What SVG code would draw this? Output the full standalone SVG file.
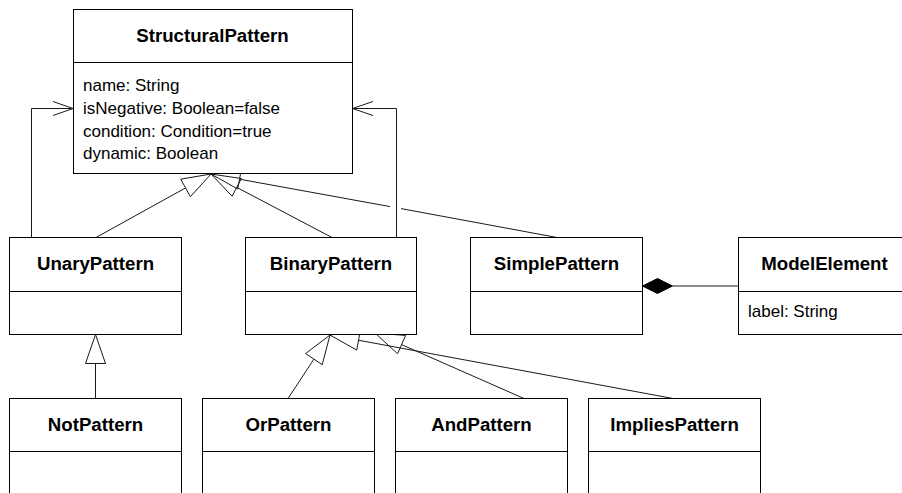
<svg xmlns="http://www.w3.org/2000/svg" width="902" height="493" viewBox="0 0 902 493">
  <style>
    .box { fill: #ffffff; stroke: #000000; stroke-width: 1; }
    .div { stroke: #000000; stroke-width: 1; }
    .title { font-family: "Liberation Sans", Arial, sans-serif; font-weight: bold; font-size: 18.67px; fill: #000000; text-anchor: middle; }
    .attr { font-family: "Liberation Sans", Arial, sans-serif; font-size: 17px; fill: #000000; }
    .edge { fill: none; stroke: #1a1a1a; stroke-width: 1; }
    .gen { fill: none; stroke: #1a1a1a; stroke-width: 1; stroke-linejoin: miter; }
  </style>
  <rect width="902" height="493" fill="#ffffff"/>

  <!-- connectors -->
  <g id="connectors">
    <!-- UnaryPattern to StructuralPattern association -->
    <polyline class="edge" points="31.5,237.5 31.5,108.5 73,108.5"/>
    <polyline class="edge" points="53,101.5 73,108.5 53,115.5"/>
    <!-- BinaryPattern to StructuralPattern association -->
    <polyline class="edge" points="396.5,237.5 396.5,108.5 352.5,108.5"/>
    <polyline class="edge" points="373,101.5 352.5,108.5 373,115.5"/>

    <!-- generalizations to StructuralPattern -->
    <line class="edge" x1="96" y1="237.5" x2="185.56" y2="187.93"/>
    <polygon class="gen" points="211,174 190.37,196.70 180.76,179.16"/>
    <line class="edge" x1="332" y1="237.5" x2="236.73" y2="187.39"/>
    <polygon class="gen" points="211,174 232.11,196.26 241.35,178.52"/>
    <!-- SimplePattern line, broken where it crosses the BinaryPattern association -->
    <line class="edge" x1="557" y1="237.5" x2="401" y2="208.59"/>
    <line class="edge" x1="390" y1="206.59" x2="239.53" y2="179.19"/>
    <polygon class="gen" points="211,174 237.74,189.03 241.32,169.35"/>

    <!-- composition SimplePattern - ModelElement -->
    <polygon points="642.5,286 657.5,278.5 672.5,286 657.5,293.5" fill="#000000" stroke="#000000" stroke-width="1"/>
    <line class="edge" x1="672.5" y1="286" x2="738.5" y2="286"/>

    <!-- NotPattern to UnaryPattern -->
    <line class="edge" x1="95.5" y1="363.5" x2="95.5" y2="398.5"/>
    <polygon class="gen" points="95.5,334.5 85.5,363.5 105.5,363.5"/>

    <!-- generalizations to BinaryPattern -->
    <line class="edge" x1="288" y1="398.5" x2="313.91" y2="359.13"/>
    <polygon class="gen" points="330,335 322.23,364.68 305.59,353.58"/>
    <line class="edge" x1="673" y1="398.5" x2="358.53" y2="340.24"/>
    <polygon class="gen" points="330,335 356.72,350.08 360.34,330.40"/>
    <line class="edge" x1="524" y1="398.5" x2="401.58" y2="344.59"/>
    <polygon class="gen" points="375,333 397.58,353.75 405.58,335.43"/>
  </g>

  <g id="StructuralPattern">
    <rect class="box" x="73.5" y="9.5" width="279" height="164"/>
    <line class="div" x1="73.5" y1="62.5" x2="352.5" y2="62.5"/>
    <text class="title" x="212.5" y="42">StructuralPattern</text>
    <text class="attr" x="83" y="91">name: String</text>
    <text class="attr" x="83" y="114">isNegative: Boolean=false</text>
    <text class="attr" x="83" y="137">condition: Condition=true</text>
    <text class="attr" x="83" y="159">dynamic: Boolean</text>
  </g>

  <g id="UnaryPattern">
    <rect class="box" x="9.5" y="237.5" width="172" height="97"/>
    <line class="div" x1="9.5" y1="291.5" x2="181.5" y2="291.5"/>
    <text class="title" x="95.5" y="270">UnaryPattern</text>
  </g>

  <g id="BinaryPattern">
    <rect class="box" x="245.5" y="237.5" width="171" height="97"/>
    <line class="div" x1="245.5" y1="291.5" x2="416.5" y2="291.5"/>
    <text class="title" x="331" y="270">BinaryPattern</text>
  </g>

  <g id="SimplePattern">
    <rect class="box" x="470.5" y="237.5" width="172" height="97"/>
    <line class="div" x1="470.5" y1="291.5" x2="642.5" y2="291.5"/>
    <text class="title" x="556.5" y="270">SimplePattern</text>
  </g>

  <g id="ModelElement">
    <rect class="box" x="738.5" y="237.5" width="172" height="97"/>
    <line class="div" x1="738.5" y1="291.5" x2="910.5" y2="291.5"/>
    <text class="title" x="824.5" y="270">ModelElement</text>
    <text class="attr" x="748" y="317">label: String</text>
  </g>

  <g id="NotPattern">
    <rect class="box" x="9.5" y="398.5" width="172" height="110"/>
    <line class="div" x1="9.5" y1="451.5" x2="181.5" y2="451.5"/>
    <text class="title" x="95.5" y="431">NotPattern</text>
  </g>

  <g id="OrPattern">
    <rect class="box" x="202.5" y="398.5" width="172" height="110"/>
    <line class="div" x1="202.5" y1="451.5" x2="374.5" y2="451.5"/>
    <text class="title" x="288.5" y="431">OrPattern</text>
  </g>

  <g id="AndPattern">
    <rect class="box" x="395.5" y="398.5" width="172" height="110"/>
    <line class="div" x1="395.5" y1="451.5" x2="567.5" y2="451.5"/>
    <text class="title" x="481.5" y="431">AndPattern</text>
  </g>

  <g id="ImpliesPattern">
    <rect class="box" x="588.5" y="398.5" width="172" height="110"/>
    <line class="div" x1="588.5" y1="451.5" x2="760.5" y2="451.5"/>
    <text class="title" x="674.5" y="431">ImpliesPattern</text>
  </g>
</svg>
